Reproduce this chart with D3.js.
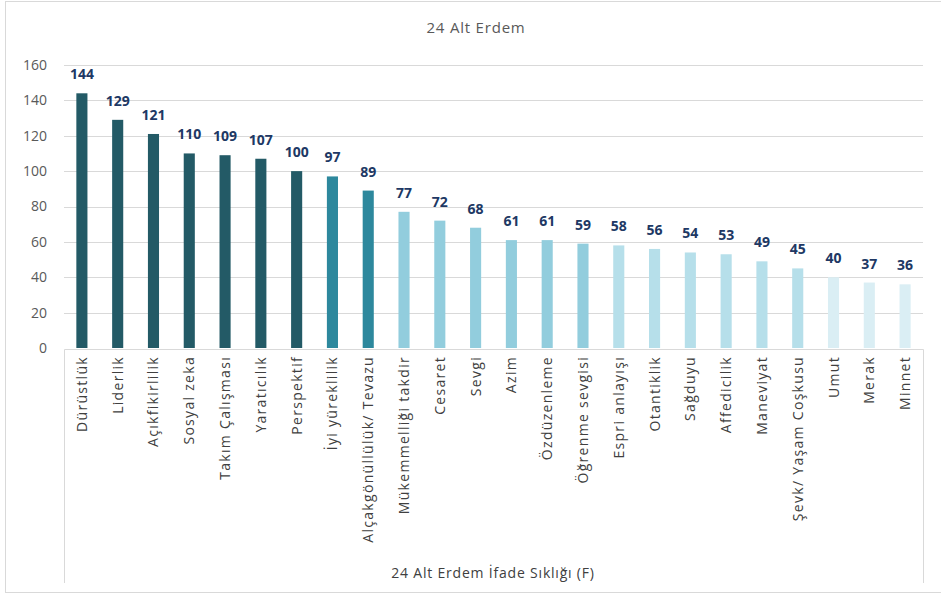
<!DOCTYPE html>
<html>
<head>
<meta charset="utf-8">
<script src="https://cdn.jsdelivr.net/npm/d3@7"></script>
<style>
  body { margin: 0; background: #fff; }
  svg { display: block; font-family: "Open Sans", "Noto Sans", sans-serif; }
</style>
</head>
<body>
<svg id="chart" width="941" height="594"></svg>
<script>
// chart data
const categories = ["Dürüstlük", "Liderlik", "Açıkfikirlilik", "Sosyal zeka", "Takım Çalışması", "Yaratıcılık",
  "Perspektif", "İyi yüreklilik", "Alçakgönüllülük/ Tevazu", "Mükemmelliği takdir", "Cesaret", "Sevgi",
  "Azim", "Özdüzenleme", "Öğrenme sevgisi", "Espri anlayışı", "Otantiklik", "Sağduyu", "Affedicilik",
  "Maneviyat", "Şevk/ Yaşam Coşkusu", "Umut", "Merak", "Minnet"];
const values = [144, 129, 121, 110, 109, 107, 100, 97, 89, 77, 72, 68, 61, 61, 59, 58, 56, 54, 53, 49, 45, 40, 37, 36];
const colorGroups = [0, 0, 0, 0, 0, 0, 0, 1, 1, 2, 2, 2, 2, 2, 2, 3, 3, 3, 3, 3, 3, 4, 4, 4];
const palette = ["#235a66", "#2d889d", "#92cddd", "#b6dfea", "#daeef4"];
const yTicks = [0, 20, 40, 60, 80, 100, 120, 140, 160];

const svg = d3.select("#chart");
const plot = { left: 64, right: 923, top: 65, bottom: 348 };

// outer frame
svg.append("rect")
  .attr("x", 5.5).attr("y", 1.5)
  .attr("width", 960).attr("height", 591)
  .attr("fill", "none").attr("stroke", "#d9d9d9");

svg.append("text")
  .attr("x", 476).attr("y", 33)
  .attr("text-anchor", "middle")
  .attr("fill", "#595959")
  .style("font-size", "15px")
  .style("letter-spacing", "0.8px")
  .text("24  Alt Erdem");

const x = d3.scaleBand()
  .domain(categories)
  .range([plot.left, plot.right])
  .paddingInner(0.69)
  .paddingOuter(0.345);

const y = d3.scaleLinear()
  .domain([0, 160])
  .range([plot.bottom, plot.top]);

// gridlines
svg.append("g")
  .selectAll("line")
  .data(yTicks.filter(d => d > 0))
  .enter()
  .append("line")
  .attr("x1", plot.left).attr("x2", plot.right)
  .attr("y1", d => Math.round(y(d)) + 0.5)
  .attr("y2", d => Math.round(y(d)) + 0.5)
  .attr("stroke", "#d9d9d9");

// y axis labels
const yAxis = svg.append("g")
  .attr("transform", "translate(" + (plot.left - 17) + ",0)")
  .call(d3.axisLeft(y).tickValues(yTicks).tickSize(0).tickPadding(0));
yAxis.select(".domain").remove();
yAxis.selectAll("text")
  .attr("fill", "#595959")
  .style("font-size", "14px")
  .style("font-family", "'Open Sans', 'Noto Sans', sans-serif");

// bars
svg.append("g")
  .selectAll("rect")
  .data(values)
  .enter()
  .append("rect")
  .attr("x", (d, i) => x(categories[i]))
  .attr("width", x.bandwidth())
  .attr("y", d => y(d))
  .attr("height", d => y(0) - y(d))
  .attr("fill", (d, i) => palette[colorGroups[i]]);

// value labels
svg.append("g")
  .selectAll("text")
  .data(values)
  .enter()
  .append("text")
  .attr("x", (d, i) => x(categories[i]) + x.bandwidth() / 2)
  .attr("y", d => y(d) - 14)
  .attr("text-anchor", "middle")
  .attr("fill", "#203864")
  .style("font-size", "14px")
  .style("font-weight", "bold")
  .text(d => d);

// category axis box
const boxBottom = 583;
svg.append("path")
  .attr("d", "M" + (plot.left + 0.5) + "," + boxBottom + "V" + (plot.bottom + 1.5) +
    "H" + (plot.right + 0.5) + "V" + boxBottom)
  .attr("fill", "none")
  .attr("stroke", "#d9d9d9");

// category labels
svg.append("g")
  .selectAll("text")
  .data(categories)
  .enter()
  .append("text")
  .attr("transform", d => "translate(" + (x(d) + x.bandwidth() / 2 + 5) + "," + (plot.bottom + 8) + ") rotate(-90)")
  .attr("text-anchor", "end")
  .attr("fill", "#404040")
  .style("font-size", "14px")
  .style("letter-spacing", "1.3px")
  .text(d => d);

// axis title
svg.append("text")
  .attr("x", 493).attr("y", 578)
  .attr("text-anchor", "middle")
  .attr("fill", "#404040")
  .style("font-size", "14px")
  .style("letter-spacing", "0.8px")
  .text("24 Alt Erdem İfade Sıklığı (F)");
</script>
</body>
</html>
